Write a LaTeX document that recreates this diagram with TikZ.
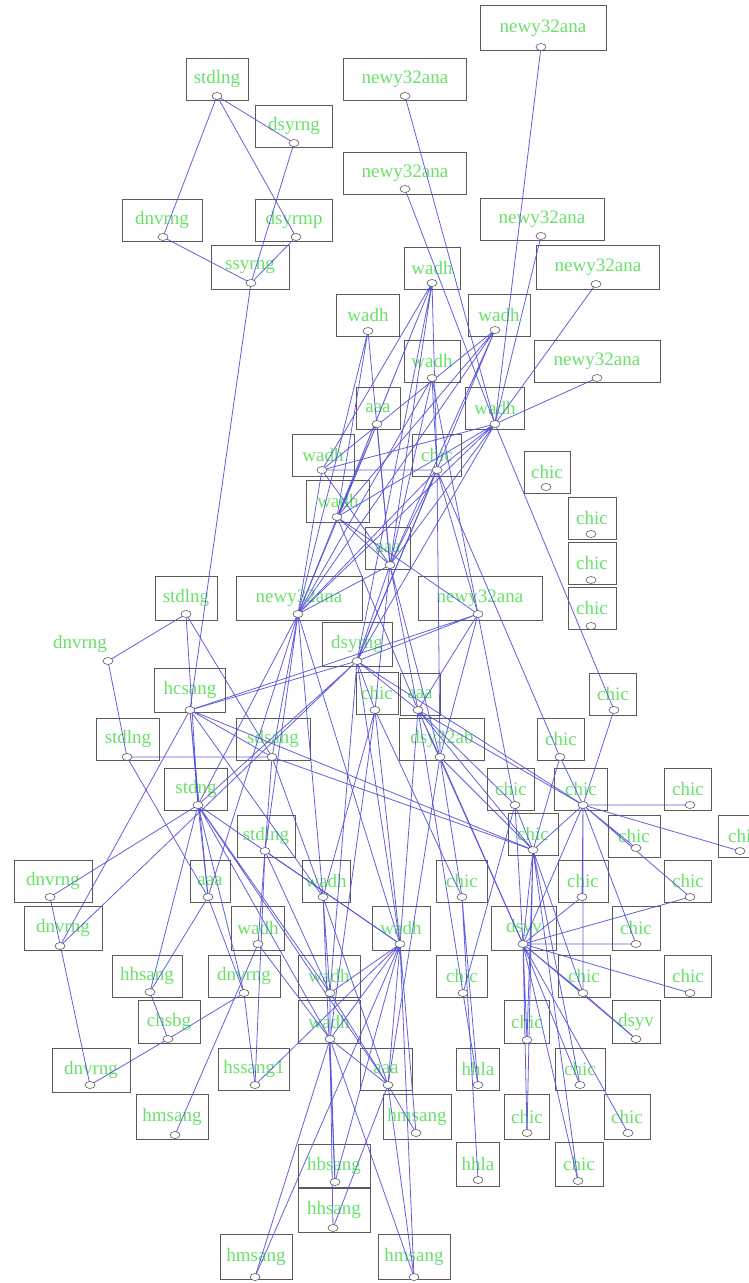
\documentclass[tikz,border=0pt]{standalone}
\usepackage{fontspec}
\setmainfont{Liberation Serif}
\definecolor{lblgreen}{RGB}{105,225,105}
\definecolor{boxgray}{RGB}{90,90,90}
\definecolor{edgeblue}{RGB}{80,80,215}
\begin{document}
\begin{tikzpicture}[x=1pt, y=-1pt,
    box/.style={draw=boxgray, line width=0.9pt, text=lblgreen, minimum height=42, inner sep=0pt, font=\fontsize{19}{22}\selectfont},
    lbl/.style={text=lblgreen, inner sep=0pt, font=\fontsize{19}{22}\selectfont},
    edge/.style={draw=edgeblue, line width=0.8pt, opacity=0.9},
    port/.style={draw=boxgray, fill=white, line width=0.6pt}]
    \useasboundingbox (0,0) rectangle (748,1283);

    % Anschluesse
    \coordinate (P1) at (217,96);   \coordinate (P2) at (294,143);  \coordinate (P3) at (405,96);
    \coordinate (P4) at (541,47);   \coordinate (P5) at (405,189);  \coordinate (P6) at (163,237);
    \coordinate (P7) at (296,237);  \coordinate (P8) at (251,283);  \coordinate (P9) at (541,236);
    \coordinate (P10) at (432,283); \coordinate (P11) at (596,284); \coordinate (P12) at (368,331);
    \coordinate (P13) at (495,330); \coordinate (P14) at (432,378); \coordinate (P15) at (597,378);
    \coordinate (P16) at (377,424); \coordinate (P17) at (495,424); \coordinate (P18) at (322,470);
    \coordinate (P19) at (437,470); \coordinate (P20) at (546,487); \coordinate (P21) at (337,517);
    \coordinate (P22) at (591,534); \coordinate (P23) at (390,565); \coordinate (P24) at (591,580);
    \coordinate (P25) at (591,626); \coordinate (P26) at (186,614); \coordinate (P27) at (298,614);
    \coordinate (P28) at (478,614); \coordinate (P29) at (108,661); \coordinate (P30) at (357,661);
    \coordinate (P31) at (190,710); \coordinate (P32) at (375,710); \coordinate (P33) at (418,710);
    \coordinate (P34) at (127,757); \coordinate (P35) at (272,757); \coordinate (P36) at (440,757);
    \coordinate (P37) at (614,710); \coordinate (P38) at (560,757); \coordinate (P39) at (198,805);
    \coordinate (P40) at (515,805); \coordinate (P41) at (583,805); \coordinate (P42) at (690,805);
    \coordinate (P43) at (265,851); \coordinate (P44) at (533,850); \coordinate (P45) at (636,848);
    \coordinate (P46) at (740,851); \coordinate (P47) at (50,897);  \coordinate (P48) at (208,897);
    \coordinate (P49) at (323,897); \coordinate (P50) at (462,897); \coordinate (P51) at (582,897);
    \coordinate (P52) at (690,897); \coordinate (P53) at (60,946);  \coordinate (P54) at (258,944);
    \coordinate (P55) at (400,944); \coordinate (P56) at (523,944); \coordinate (P57) at (636,944);
    \coordinate (P58) at (150,992); \coordinate (P59) at (244,993); \coordinate (P60) at (330,993);
    \coordinate (P61) at (463,993); \coordinate (P62) at (583,993); \coordinate (P63) at (690,993);
    \coordinate (P64) at (168,1039); \coordinate (P65) at (330,1039); \coordinate (P66) at (527,1040);
    \coordinate (P67) at (636,1039); \coordinate (P68) at (90,1085); \coordinate (P69) at (255,1085);
    \coordinate (P70) at (388,1085); \coordinate (P71) at (478,1085); \coordinate (P72) at (580,1085);
    \coordinate (P73) at (175,1135); \coordinate (P74) at (416,1133); \coordinate (P75) at (527,1133);
    \coordinate (P76) at (628,1133); \coordinate (P77) at (335,1182); \coordinate (P78) at (478,1180);
    \coordinate (P79) at (578,1181); \coordinate (P80) at (333,1228); \coordinate (P81) at (255,1277);
    \coordinate (P82) at (414,1277);

    % Kaesten
    \node[box, minimum width=62] (B1) at (217,79) {stdlng};
    \node[box, minimum width=77] (B2) at (294,126) {dsyrng};
    \node[box, minimum width=123] (B3) at (405,79) {newy32ana};
    \node[box, minimum width=126, minimum height=45] (B4) at (543,28) {newy32ana};
    \node[box, minimum width=123] (B5) at (405,173) {newy32ana};
    \node[box, minimum width=80] (B6) at (162,220) {dnvrng};
    \node[box, minimum width=77] (B7) at (294,220) {dsyrmp};
    \node[box, minimum width=78, minimum height=44] (B8) at (250,267) {ssyrng};
    \node[box, minimum width=124] (B9) at (542,219) {newy32ana};
    \node[box, minimum width=56] (B10) at (432,268) {wadh};
    \node[box, minimum width=123, minimum height=44] (B11) at (598,267) {newy32ana};
    \node[box, minimum width=63] (B12) at (368,315) {wadh};
    \node[box, minimum width=62] (B13) at (499,315) {wadh};
    \node[box, minimum width=56] (B14) at (432,361) {wadh};
    \node[box, minimum width=126] (B15) at (597,361) {newy32ana};
    \node[box, minimum width=44] (B16) at (378,408) {aaa};
    \node[box, minimum width=59] (B17) at (495,408) {wadh};
    \node[box, minimum width=62] (B18) at (323,455) {wadh};
    \node[box, minimum width=49] (B19) at (437,455) {chic};
    \node[box, minimum width=46] (B20) at (547,472) {chic};
    \node[box, minimum width=63] (B21) at (338,501) {wadh};
    \node[box, minimum width=48] (B22) at (592,518) {chic};
    \node[box, minimum width=45] (B23) at (388,548) {aaa};
    \node[box, minimum width=48] (B24) at (592,563) {chic};
    \node[box, minimum width=48] (B25) at (592,608) {chic};
    \node[box, minimum width=62, minimum height=44] (B26) at (186,598) {stdlng};
    \node[box, minimum width=126, minimum height=44] (B27) at (299,598) {newy32ana};
    \node[box, minimum width=124, minimum height=44] (B28) at (480,598) {newy32ana};
    \node[lbl] (B29) at (80,644) {dnvrng};
    \node[box, minimum width=70, minimum height=44] (B30) at (357,644) {dsyrng};
    \node[box, minimum width=71, minimum height=44] (B31) at (190,690) {hcsang};
    \node[box, minimum width=42] (B32) at (377,693) {chic};
    \node[box, minimum width=40] (B33) at (420,694) {aaa};
    \node[box, minimum width=63] (B34) at (128,739) {stdlng};
    \node[box, minimum width=74] (B35) at (273,739) {sdsang};
    \node[box, minimum width=85] (B36) at (442,739) {dsy32ab};
    \node[box, minimum width=47] (B37) at (613,694) {chic};
    \node[box, minimum width=47] (B38) at (561,739) {chic};
    \node[box, minimum width=63] (B39) at (196,789) {stdng};
    \node[box, minimum width=47] (B40) at (511,789) {chic};
    \node[box, minimum width=53] (B41) at (581,789) {chic};
    \node[box, minimum width=47] (B42) at (688,789) {chic};
    \node[box, minimum width=58] (B43) at (266,836) {stdlng};
    \node[box, minimum width=50] (B44) at (533,834) {chic};
    \node[box, minimum width=52] (B45) at (634,836) {chic};
    \node[box, minimum width=52] (B46) at (744,836) {chic};
    \node[box, minimum width=78] (B47) at (53,881) {dnvrng};
    \node[box, minimum width=40] (B48) at (210,881) {aaa};
    \node[box, minimum width=48] (B49) at (326,881) {wadh};
    \node[box, minimum width=51] (B50) at (462,881) {chic};
    \node[box, minimum width=50] (B51) at (583,881) {chic};
    \node[box, minimum width=47] (B52) at (688,881) {chic};
    \node[box, minimum width=78, minimum height=44] (B53) at (63,928) {dnvrng};
    \node[box, minimum width=53, minimum height=44] (B54) at (258,928) {wadh};
    \node[box, minimum width=58, minimum height=44] (B55) at (401,928) {wadh};
    \node[box, minimum width=65, minimum height=44] (B56) at (524,928) {dsyv};
    \node[box, minimum width=48, minimum height=44] (B57) at (636,928) {chic};
    \node[box, minimum width=70] (B58) at (147,976) {hhsang};
    \node[box, minimum width=72] (B59) at (244,976) {dnvrng};
    \node[box, minimum width=62] (B60) at (329,976) {wadh};
    \node[box, minimum width=51] (B61) at (462,976) {chic};
    \node[box, minimum width=52] (B62) at (584,976) {chic};
    \node[box, minimum width=47] (B63) at (688,976) {chic};
    \node[box, minimum width=62, minimum height=43] (B64) at (169,1022) {chsbg};
    \node[box, minimum width=62, minimum height=43] (B65) at (329,1022) {wadh};
    \node[box, minimum width=45, minimum height=43] (B66) at (527,1022) {chic};
    \node[box, minimum width=48, minimum height=43] (B67) at (636,1022) {dsyv};
    \node[box, minimum width=78, minimum height=44] (B68) at (91,1070) {dnvrng};
    \node[box, minimum width=71] (B69) at (254,1069) {hssang1};
    \node[box, minimum width=52] (B70) at (386,1069) {aaa};
    \node[box, minimum width=43] (B71) at (478,1069) {hhla};
    \node[box, minimum width=50] (B72) at (580,1069) {chic};
    \node[box, minimum width=72, minimum height=45] (B73) at (172,1117) {hmsang};
    \node[box, minimum width=68, minimum height=45] (B74) at (417,1117) {hmsang};
    \node[box, minimum width=45, minimum height=45] (B75) at (527,1117) {chic};
    \node[box, minimum width=46, minimum height=45] (B76) at (627,1117) {chic};
    \node[box, minimum width=72, minimum height=43] (B77) at (334,1166) {hbsang};
    \node[box, minimum width=43, minimum height=44] (B78) at (478,1164) {hhla};
    \node[box, minimum width=48, minimum height=44] (B79) at (579,1164) {chic};
    \node[box, minimum width=72, minimum height=44] (B80) at (334,1210) {hhsang};
    \node[box, minimum width=72, minimum height=45] (B81) at (256,1257) {hmsang};
    \node[box, minimum width=72, minimum height=45] (B82) at (414,1257) {hmsang};

    % Verbindungen
    \draw[edge] (P1) -- (P2) (P1) -- (P6) (P1) -- (P7);
    \draw[edge] (P2) -- (P8) (P6) -- (P8) (P7) -- (P8) (P8) -- (P31);
    \draw[edge] (P3) -- (P17) (P4) -- (P17) (P5) -- (P17) (P9) -- (P17) (P11) -- (P17) (P15) -- (P17);
    \draw[edge] (P10) -- (P18) (P10) -- (P19) (P10) -- (P21) (P10) -- (P23) (P10) -- (P27) (P10) -- (P30);
    \draw[edge] (P12) -- (P21) (P12) -- (P27) (P12) -- (P23);
    \draw[edge] (P13) -- (P18) (P13) -- (P21) (P13) -- (P27) (P13) -- (P23) (P13) -- (P30);
    \draw[edge] (P14) -- (P19) (P14) -- (P23) (P14) -- (P27) (P14) -- (P28);
    \draw[edge] (P16) -- (P23) (P16) -- (P27) (P16) -- (P21);
    \draw[edge] (P17) -- (P18) (P17) -- (P21) (P17) -- (P23) (P17) -- (P27) (P17) -- (P30) (P17) -- (P37) (P17) -- (P19);
    \draw[edge] (P18) -- (P19) (P18) -- (P23) (P18) -- (P27);
    \draw[edge] (P19) -- (P23) (P19) -- (P27) (P19) -- (P28) (P19) -- (P30) (P19) -- (P38) (P19) -- (P36);
    \draw[edge] (P21) -- (P23) (P21) -- (P28) (P21) -- (P33);
    \draw[edge] (P23) -- (P30) (P23) -- (P32) (P23) -- (P33) (P23) -- (P36) (P23) -- (P27);
    \draw[edge] (P26) -- (P29) (P26) -- (P35) (P26) -- (P39) (P29) -- (P34);
    \draw[edge] (P27) -- (P35) (P27) -- (P39) (P27) -- (P43) (P27) -- (P48) (P27) -- (P49) (P27) -- (P55);
    \draw[edge] (P28) -- (P31) (P28) -- (P30) (P28) -- (P33) (P28) -- (P36) (P28) -- (P40);
    \draw[edge] (P30) -- (P31) (P30) -- (P32) (P30) -- (P33) (P30) -- (P39) (P30) -- (P41) (P30) -- (P53) (P30) -- (P55) (P30) -- (P60);
    \draw[edge] (P31) -- (P39) (P31) -- (P44) (P31) -- (P48) (P31) -- (P49) (P31) -- (P53) (P31) -- (P35);
    \draw[edge] (P34) -- (P35) (P34) -- (P48);
    \draw[edge] (P33) -- (P36) (P33) -- (P40) (P33) -- (P41) (P33) -- (P44) (P33) -- (P55) (P33) -- (P56) (P33) -- (P61);
    \draw[edge] (P32) -- (P49) (P32) -- (P55) (P32) -- (P50) (P32) -- (P65);
    \draw[edge] (P35) -- (P43) (P35) -- (P44) (P35) -- (P49) (P35) -- (P54);
    \draw[edge] (P36) -- (P44) (P36) -- (P50) (P36) -- (P56) (P36) -- (P70);
    \draw[edge] (P37) -- (P41) (P38) -- (P41) (P38) -- (P44);
    \draw[edge] (P39) -- (P43) (P39) -- (P47) (P39) -- (P48) (P39) -- (P55) (P39) -- (P58) (P39) -- (P59) (P39) -- (P60) (P39) -- (P65) (P39) -- (P70);
    \draw[edge] (P40) -- (P44) (P40) -- (P56) (P40) -- (P61);
    \draw[edge] (P41) -- (P42) (P41) -- (P45) (P41) -- (P46) (P41) -- (P51) (P41) -- (P52) (P41) -- (P56) (P41) -- (P57) (P41) -- (P62) (P41) -- (P44);
    \draw[edge] (P43) -- (P55) (P43) -- (P60) (P43) -- (P69);
    \draw[edge] (P44) -- (P56) (P44) -- (P62) (P44) -- (P66) (P44) -- (P72) (P44) -- (P75) (P44) -- (P79);
    \draw[edge] (P47) -- (P68) (P48) -- (P58) (P48) -- (P59);
    \draw[edge] (P49) -- (P60) (P49) -- (P70) (P49) -- (P77) (P50) -- (P71) (P50) -- (P78) (P51) -- (P56);
    \draw[edge] (P55) -- (P60) (P55) -- (P65) (P55) -- (P69) (P55) -- (P70) (P55) -- (P74) (P55) -- (P77) (P55) -- (P81) (P55) -- (P82);
    \draw[edge] (P56) -- (P52) (P56) -- (P57) (P56) -- (P62) (P56) -- (P63) (P56) -- (P66) (P56) -- (P67) (P56) -- (P72) (P56) -- (P75) (P56) -- (P76) (P56) -- (P79);
    \draw[edge] (P58) -- (P64) (P64) -- (P68) (P64) -- (P59) (P54) -- (P73) (P54) -- (P65);
    \draw[edge] (P60) -- (P65) (P60) -- (P70);
    \draw[edge] (P65) -- (P70) (P65) -- (P77) (P65) -- (P80) (P65) -- (P81) (P65) -- (P82);
    \draw[edge] (P70) -- (P74) (P70) -- (P80) (P70) -- (P82) (P69) -- (P59) (P61) -- (P71) (P62) -- (P67);

    % Anschluesse einzeichnen
    \foreach \i in {1,...,82}
        \filldraw[port] (P\i) ellipse [x radius=5pt, y radius=3.5pt];
\end{tikzpicture}
\end{document}
